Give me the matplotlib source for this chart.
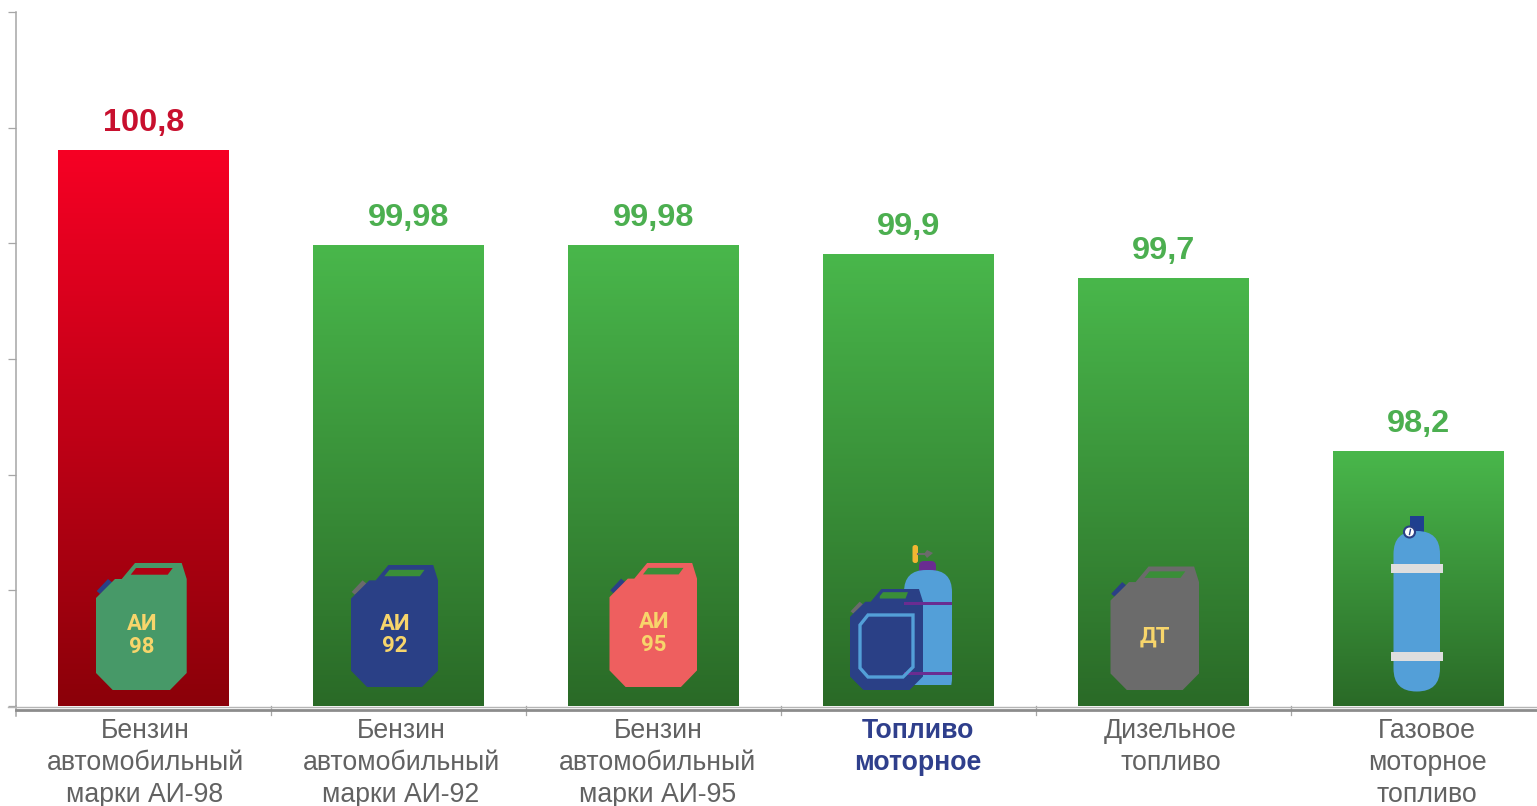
import numpy as np
import matplotlib
matplotlib.use("Agg")
import matplotlib.pyplot as plt
from matplotlib.colors import LinearSegmentedColormap
from matplotlib.patches import Polygon, Rectangle, Circle, FancyBboxPatch

plt.rcParams['font.family'] = ['Liberation Sans', 'DejaVu Sans']
plt.rcParams['patch.linewidth'] = 0

categories = ["Бензин\nавтомобильный\nмарки АИ-98", "Бензин\nавтомобильный\nмарки АИ-92",
              "Бензин\nавтомобильный\nмарки АИ-95", "Топливо\nмоторное",
              "Дизельное\nтопливо", "Газовое\nмоторное\nтопливо"]
values = [100.8, 99.98, 99.98, 99.9, 99.7, 98.2]
value_labels = ["100,8", "99,98", "99,98", "99,9", "99,7", "98,2"]

W, H = 1537, 806
RED = LinearSegmentedColormap.from_list("r", ["#8B0009", "#F60024"])
GREEN = LinearSegmentedColormap.from_list("g", ["#2A6A27", "#49B74B"])
GRID = "#A6A6A6"
YELLOW = "#F7D56B"
NAVY = "#2A4086"
CYL = "#539FD8"
PURPLE = "#6A2C91"

fig = plt.figure(figsize=(W / 100, H / 100), dpi=100)
ax = fig.add_axes([16 / W, (H - 706) / H, 1530 / W, 694 / H])
ax.set_xlim(-0.5, 5.5)
ax.set_ylim(96, 102)
ax.set_facecolor("none")

# bars with vertical gradient
grad = np.linspace(1, 0, 256).reshape(-1, 1)
x = np.arange(len(values))
bars = ax.bar(x, np.array(values) - 96, bottom=96, width=170.4 / 255, color="none")
for i, b in enumerate(bars):
    ax.imshow(grad, extent=[b.get_x(), b.get_x() + b.get_width(), 96, values[i]],
              aspect="auto", cmap=RED if i == 0 else GREEN, vmin=0, vmax=1, zorder=2)
ax.set_xlim(-0.5, 5.5)
ax.set_ylim(96, 102)

for s in ["top", "right", "bottom"]:
    ax.spines[s].set_visible(False)
ax.spines["left"].set_color(GRID)
ax.spines["left"].set_linewidth(1.1)
ax.set_yticks(np.arange(96, 103))
ax.set_xticks([])
ax.tick_params(axis="y", length=6, width=0.9, color=GRID, labelleft=False)

# overlay in pixel coords for axis decoration, labels and icons
ov = fig.add_axes([0, 0, 1, 1])
ov.set_xlim(0, W)
ov.set_ylim(H, 0)
ov.axis("off")
ov.patch.set_alpha(0)

ov.plot([8, W], [706.5, 706.5], color="#B5B5B5", lw=1.0, zorder=3)
ov.plot([16, W], [710, 710], color="#8C8C8C", lw=2.0, zorder=3)
ov.plot([16, 16], [706, 716], color=GRID, lw=1.1)
for px in [271, 526, 781, 1036, 1291]:
    ov.plot([px, px], [706, 715], color=GRID, lw=0.9)

label_x = [145, 401, 658, 918, 1170.5, 1427]
value_x = [144, 409, 653.5, 908.5, 1163.5, 1418.5]
for i, c in enumerate(categories):
    bold = i == 3
    ov.text(label_x[i], 718, c, ha="center", va="top", fontsize=19.2, linespacing=1.31,
            color="#2F3F8C" if bold else "#626262", fontweight="bold" if bold else "normal")
    top = ax.transData.transform((0, values[i]))[1]
    ov.text(value_x[i], H - top - 27.5, value_labels[i], ha="center", va="center", fontsize=23.4,
            fontweight="bold", color="#C8102E" if i == 0 else "#4CAF50")


def can(left, top, w, h, body, cap, window, text=None, win=None):
    sx, sy = w / 90.7, h / 127
    def P(pts):
        return [(left + a * sx, top + b * sy) for a, b in pts]
    ov.add_patch(Polygon(P([(0.7, 28), (12, 16), (17, 20), (4, 31)]), color=cap, zorder=5))
    ov.add_patch(Polygon(P([(0, 35), (19, 16), (25.7, 16), (39, 0), (85.7, 0), (90.7, 16),
                            (90.7, 110), (74, 127), (16.7, 127), (0, 110)]), color=body, zorder=5))
    ov.add_patch(Polygon(P(win or [(34.7, 11.7), (40, 5), (76.7, 5), (71.7, 11.7)]), color=window, zorder=6))
    if text:
        for s, cx, cy, fs in text:
            ov.text(cx, cy, s, ha="center", va="center", fontsize=fs, fontweight="bold",
                    family="Roboto", color=YELLOW, zorder=7)


can(96, 563, 90.7, 127, "#479968", NAVY, "#B00012", [("АИ", 142, 624, 16), ("98", 142, 647, 16)])
can(351, 565, 87, 122, NAVY, "#6B6B6B", "#3A8E38", [("АИ", 395, 624, 16), ("92", 395, 646, 16)])
can(609.5, 563, 87.5, 124, "#EE5F5F", NAVY, "#3A8E38", [("АИ", 654, 622, 16), ("95", 654, 645, 16)])
can(1110.5, 566.5, 88.5, 123.5, "#6B6B6B", NAVY, "#3A8E38", [("ДТ", 1155, 637, 16)])

# motor fuel icon: cylinder behind a canister
ov.add_patch(FancyBboxPatch((912.5, 545), 5.5, 18, boxstyle="round,pad=0,rounding_size=2.5",
                            color="#F2B632", zorder=5))
ov.plot([918, 930], [554, 554], color="#6B6B6B", lw=1.5, zorder=5)
ov.add_patch(Polygon([(924, 554), (927, 550), (933, 553), (927, 558)], color="#6B6B6B", zorder=5))
ov.add_patch(FancyBboxPatch((919, 561), 17, 14, boxstyle="round,pad=0,rounding_size=5",
                            color=PURPLE, zorder=5))
cyl = FancyBboxPatch((904, 570), 48, 130, boxstyle="round,pad=0,rounding_size=22", color=CYL, zorder=5)
ov.add_patch(cyl)
# flat bottom at y=685
cyl.set_clip_path(Rectangle((900, 560), 60, 125, transform=ov.transData))
ov.add_patch(Rectangle((904, 602), 48, 3, color=PURPLE, zorder=5.2))
ov.add_patch(Rectangle((904, 672), 48, 3, color=PURPLE, zorder=5.2))
can(850, 589, 73, 101, NAVY, "#6B6B6B", "#3A8E38", win=[(37, 9), (41, 4), (72, 4), (69, 12), (37, 12)])
ov.add_patch(Polygon([(860, 625), (868, 615), (913, 615), (913, 667), (903, 677), (868, 677), (860, 668)],
                     closed=True, facecolor="none", edgecolor=CYL, lw=2.4, zorder=7))

# gas cylinder icon
ov.add_patch(Rectangle((1410, 516), 13.5, 17, color="#1F3F8F", zorder=5))
ov.add_patch(FancyBboxPatch((1393.5, 531), 46.5, 160.5, boxstyle="round,pad=0,rounding_size=23",
                            color=CYL, zorder=5))
for yy in [563.5, 652]:
    ov.add_patch(Rectangle((1391, yy), 52, 9, color="#DEDEDE", zorder=6))
ov.add_patch(Circle((1409.5, 532), 5.5, facecolor="white", edgecolor=NAVY, lw=1.5, zorder=7))
ov.plot([1409.5, 1410.5], [534.5, 529.5], color=NAVY, lw=1, zorder=8)

fig.savefig("out.png", dpi=100)
